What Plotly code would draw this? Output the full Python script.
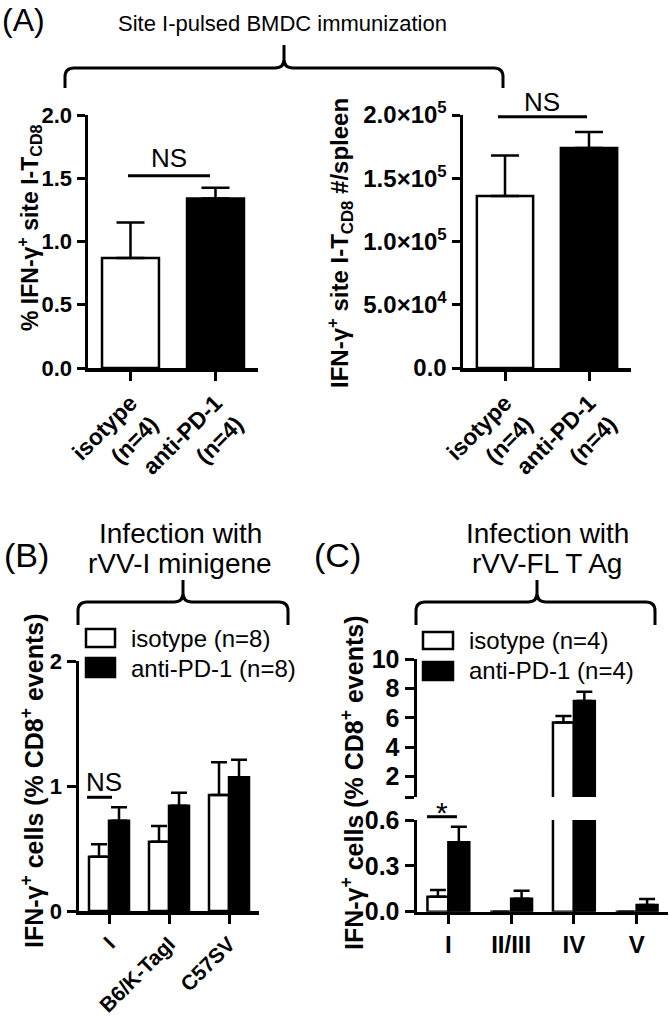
import plotly.graph_objects as go

W, H = 669, 1020
FONT = "Liberation Sans, Arial, sans-serif"


def X(px):
    return px / W


def Y(py):
    return 1 - py / H


# ---------------- data ----------------
# Panel A (site I-pulsed BMDC immunization)
a_cats = ["isotype<br>(n=4)", "anti-PD-1<br>(n=4)"]
a_pct_mean = [0.87, 1.34]
a_pct_sem = [0.28, 0.085]
a_num_mean = [1.36e5, 1.74e5]
a_num_sem = [0.32e5, 0.126e5]
a_pct_ticks = [0, 0.5, 1.0, 1.5, 2.0]
a_pct_ticktext = ["0.0", "0.5", "1.0", "1.5", "2.0"]
a_num_ticks = [0, 5e4, 1e5, 1.5e5, 2e5]
a_num_ticktext = ["0.0", "5.0×10<sup>4</sup>", "1.0×10<sup>5</sup>",
                  "1.5×10<sup>5</sup>", "2.0×10<sup>5</sup>"]

# Panel B (rVV-I minigene)
b_cats = ["I", "B6/K-TagI", "C57SV"]
b_iso_mean = [0.434, 0.554, 0.928]
b_iso_sem = [0.10, 0.126, 0.262]
b_anti_mean = [0.722, 0.842, 1.07]
b_anti_sem = [0.108, 0.104, 0.14]

# Panel C (rVV-FL T Ag), broken y axis: lower 0-0.6, upper 0.6-10
c_cats = ["I", "II/III", "IV", "V"]
c_iso_mean = [0.098, 0.0, 5.68, 0.0]
c_iso_sem = [0.044, 0.0, 0.45, 0.0]
c_anti_mean = [0.454, 0.085, 7.16, 0.044]
c_anti_sem = [0.102, 0.052, 0.63, 0.039]
c_break = 0.6

# ---------------- figure ----------------
fig = go.Figure()
bar_line = dict(color="black", width=2.5)


def err(arr, w):
    return dict(type="data", array=arr, arrayminus=[0] * len(arr),
                symmetric=False, color="black", thickness=2.5, width=w)


fig.add_trace(go.Bar(x=a_cats, y=a_pct_mean, error_y=err(a_pct_sem, 14),
                     marker=dict(color=["white", "black"], line=bar_line),
                     width=0.67, xaxis="x", yaxis="y", showlegend=False))
fig.add_trace(go.Bar(x=a_cats, y=a_num_mean, error_y=err(a_num_sem, 14),
                     marker=dict(color=["white", "black"], line=bar_line),
                     width=0.67, xaxis="x2", yaxis="y2", showlegend=False))

fig.add_trace(go.Bar(x=b_cats, y=b_iso_mean, error_y=err(b_iso_sem, 8),
                     marker=dict(color="white", line=bar_line), name="isotype (n=8)",
                     offsetgroup="iso", xaxis="x3", yaxis="y3", showlegend=False))
fig.add_trace(go.Bar(x=b_cats, y=b_anti_mean, error_y=err(b_anti_sem, 8),
                     marker=dict(color="black", line=bar_line), name="anti-PD-1 (n=8)",
                     offsetgroup="anti", xaxis="x3", yaxis="y3", showlegend=False))


def upper(vals):
    return [v if v > c_break else None for v in vals]


# lower segment: all values
fig.add_trace(go.Bar(x=c_cats, y=c_iso_mean, error_y=err(c_iso_sem, 8),
                     marker=dict(color="white", line=bar_line), name="isotype (n=4)",
                     offsetgroup="iso", xaxis="x4", yaxis="y4", showlegend=False))
fig.add_trace(go.Bar(x=c_cats, y=c_anti_mean, error_y=err(c_anti_sem, 8),
                     marker=dict(color="black", line=bar_line), name="anti-PD-1 (n=4)",
                     offsetgroup="anti", xaxis="x4", yaxis="y4", showlegend=False))
# upper segment: only bars reaching above the break
fig.add_trace(go.Bar(x=c_cats, y=upper(c_iso_mean), error_y=err(c_iso_sem, 8),
                     marker=dict(color="white", line=bar_line), name="isotype (n=4)",
                     offsetgroup="iso", xaxis="x5", yaxis="y5", showlegend=False))
fig.add_trace(go.Bar(x=c_cats, y=upper(c_anti_mean), error_y=err(c_anti_sem, 8),
                     marker=dict(color="black", line=bar_line), name="anti-PD-1 (n=4)",
                     offsetgroup="anti", xaxis="x5", yaxis="y5", showlegend=False))

tickf = dict(family=FONT, size=24, color="black", weight="bold")
base = dict(showline=True, linecolor="black", linewidth=3.5, ticks="outside",
            ticklen=9, tickwidth=3, tickcolor="black", showgrid=False,
            zeroline=False, tickfont=tickf, fixedrange=True, automargin=False)

fig.update_layout(
    template="none",
    width=W, height=H, margin=dict(l=0, r=0, t=0, b=0, pad=0, autoexpand=False),
    paper_bgcolor="white", plot_bgcolor="rgba(0,0,0,0)",
    font=dict(family=FONT, color="black"),
    barmode="group", bargap=0.333, bargroupgap=0,
    showlegend=False,
    xaxis=dict(base, domain=[X(88), X(258)], range=[-0.5, 1.5], anchor="y",
               tickangle=-45, type="category", ticklabeloverflow="allow",
               tickfont=dict(tickf, size=23)),
    yaxis=dict(base, domain=[Y(368), Y(115)], range=[0, 2], anchor="x",
               tickvals=a_pct_ticks, ticktext=a_pct_ticktext,
               tickfont=dict(tickf, size=22), ticklen=8),
    xaxis2=dict(base, domain=[X(463), X(631)], range=[-0.5, 1.5], anchor="y2",
                tickangle=-45, type="category", ticklabeloverflow="allow",
                tickfont=dict(tickf, size=23)),
    yaxis2=dict(base, domain=[Y(368), Y(115)], range=[0, 2e5], anchor="x2",
                tickvals=a_num_ticks, ticktext=a_num_ticktext,
                tickfont=dict(tickf, size=24), ticklen=8),
    xaxis3=dict(base, domain=[X(79), X(259)], range=[-0.5, 2.5], anchor="y3",
                tickangle=-45, type="category", ticklabeloverflow="allow",
                tickfont=dict(tickf, size=21)),
    yaxis3=dict(base, domain=[Y(911), Y(661)], range=[0, 2], anchor="x3",
                tickvals=[0, 1, 2], ticktext=["0", "1", "2"],
                tickfont=dict(tickf, size=22)),
    xaxis4=dict(base, domain=[X(417), X(668)], range=[-0.5, 3.5], anchor="y4",
                tickangle=0, type="category", ticklabeloverflow="allow"),
    yaxis4=dict(base, domain=[Y(911.7), Y(820)], range=[0, c_break], anchor="x4",
                tickvals=[0, 0.3, 0.6], ticktext=["0.0", "0.3", "0.6"],
                tickfont=dict(tickf, size=25)),
    xaxis5=dict(domain=[X(417), X(668)], range=[-0.5, 3.5], anchor="y5",
                matches="x4", visible=False, type="category", fixedrange=True,
                automargin=False),
    yaxis5=dict(base, domain=[Y(797), Y(659.3)], range=[c_break, 10], anchor="x5",
                tickvals=[0.6, 2, 4, 6, 8, 10], ticktext=["", "2", "4", "6", "8", "10"],
                tickfont=dict(tickf, size=25)),
)

ann = []


def txt(x, y, s, size, bold=False, xanchor="center", yanchor="middle", angle=0):
    f = dict(family=FONT, size=size, color="black")
    if bold:
        f["weight"] = "bold"
    ann.append(dict(x=X(x), y=Y(y), xref="paper", yref="paper", text=s, showarrow=False,
                    xanchor=xanchor, yanchor=yanchor, textangle=angle, font=f))


# panel letters and titles
txt(0, 20, "(A)", 32, xanchor="left")
txt(282, 23, "Site I-pulsed BMDC immunization", 22)
txt(2, 555, "(B)", 34, xanchor="left")
txt(180, 533, "Infection with", 28)
txt(180, 563, "rVV-I minigene", 28)
txt(312, 555, "(C)", 34, xanchor="left")
txt(547, 533, "Infection with", 28)
txt(547, 563, "rVV-FL T Ag", 28)

# y-axis titles
txt(29, 228, "% IFN-γ<sup>+</sup> site I-T<sub>CD8</sub>", 23, bold=True, angle=-90)
txt(340, 243, "IFN-γ<sup>+</sup> site I-T<sub>CD8</sub> #/spleen", 24, bold=True, angle=-90)
txt(32, 781, "IFN-γ<sup>+</sup> cells (% CD8<sup>+</sup> events)", 25, bold=True, angle=-90)
txt(352, 783, "IFN-γ<sup>+</sup> cells (% CD8<sup>+</sup> events)", 25, bold=True, angle=-90)

# significance labels
txt(169, 158, "NS", 26)
txt(542, 102, "NS", 26)
txt(104, 782, "NS", 26)
txt(442, 812, "*", 30)

# legends (text)
txt(129, 638, "isotype (n=8)", 24, xanchor="left")
txt(129, 668, "anti-PD-1 (n=8)", 24, xanchor="left")
txt(467, 640, "isotype (n=4)", 24, xanchor="left")
txt(467, 670, "anti-PD-1 (n=4)", 24, xanchor="left")

shapes = []
ln = dict(color="black", width=3)


def bracket(x1, x2, xc, yh, yend, ypeak, r=9):
    p = (f"M{X(x1)},{Y(yend)} L{X(x1)},{Y(yh + r)} Q{X(x1)},{Y(yh)} {X(x1 + r)},{Y(yh)} "
         f"L{X(xc - r)},{Y(yh)} Q{X(xc)},{Y(yh)} {X(xc)},{Y(yh - r)} L{X(xc)},{Y(ypeak)} "
         f"M{X(xc)},{Y(yh - r)} Q{X(xc)},{Y(yh)} {X(xc + r)},{Y(yh)} "
         f"L{X(x2 - r)},{Y(yh)} Q{X(x2)},{Y(yh)} {X(x2)},{Y(yh + r)} L{X(x2)},{Y(yend)}")
    shapes.append(dict(type="path", path=p, xref="paper", yref="paper", line=ln))


bracket(65, 503, 284, 68, 88, 45)
bracket(78, 288, 183, 602, 625, 580)
bracket(416, 655, 537, 602, 625, 580)


def hline(x0, x1, y):
    shapes.append(dict(type="line", xref="paper", yref="paper",
                       x0=X(x0), x1=X(x1), y0=Y(y), y1=Y(y), line=ln))


# significance lines
hline(128, 210, 175.7)
hline(498, 587, 116.7)
hline(87, 112, 797.3)
hline(427, 457, 816.7)

# legend boxes
for (x0, y0, x1, y1, col) in [(86, 629, 115, 647, "white"), (86, 658, 115, 677, "black"),
                              (423, 632, 453, 649, "white"), (423, 662, 453, 680, "black")]:
    shapes.append(dict(type="rect", xref="paper", yref="paper", x0=X(x0), x1=X(x1),
                       y0=Y(y1), y1=Y(y0), fillcolor=col, line=dict(color="black", width=2.5)))

fig.update_layout(annotations=ann, shapes=shapes)
fig.write_html("out.html", config={"displayModeBar": False, "staticPlot": True},
               post_script="document.body.style.margin='0';"
                           "document.body.style.overflow='hidden';")
